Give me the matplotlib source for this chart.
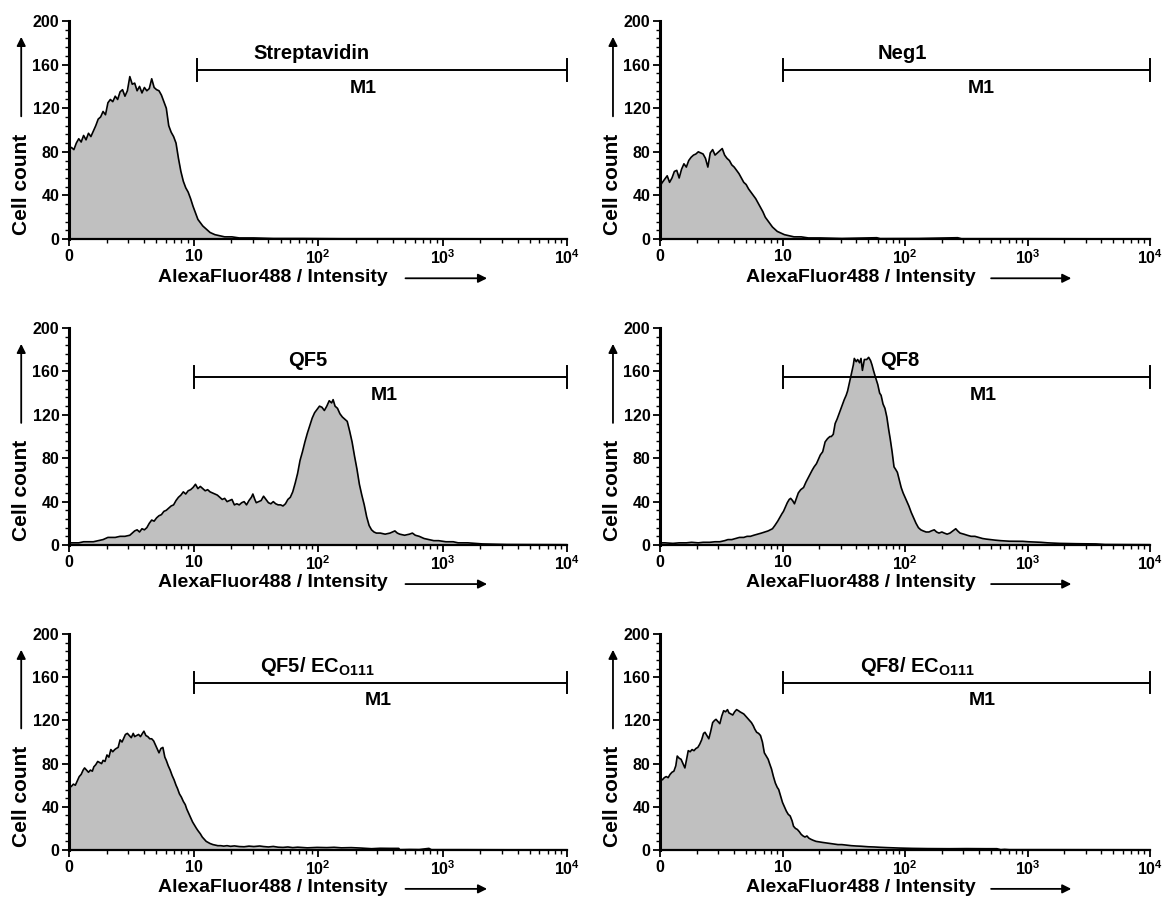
import matplotlib
matplotlib.use('Agg')
import matplotlib.pyplot as plt
from matplotlib.ticker import FixedLocator, MultipleLocator, LogLocator, NullFormatter
import numpy as np

plt.rcParams['font.family'] = 'Liberation Sans'
plt.rcParams['font.weight'] = 'bold'
plt.rcParams['mathtext.fontset'] = 'custom'
plt.rcParams['mathtext.rm'] = 'Liberation Sans:bold'
plt.rcParams['mathtext.bf'] = 'Liberation Sans:bold'
plt.rcParams['mathtext.it'] = 'Liberation Sans:bold'

# histogram channels: 1024 channels over 4 decades (256 per decade)
strep_ch = [0, 1, 2, 5, 10, 15, 20, 25, 30, 35, 40, 45, 50, 55, 60, 65, 70, 75, 80, 85, 90, 95, 100,
            105, 110, 115, 120, 125, 130, 135, 140, 145, 150, 155, 160, 165, 170, 175, 180, 185, 190,
            195, 200, 205, 210, 215, 220, 225, 230, 235, 240, 245, 250, 255, 260, 265, 270, 275, 280,
            285, 290, 295, 300, 310, 320, 335, 350, 380, 420, 480, 560, 700, 850, 1024]
strep_cnt = [142, 142, 83, 84, 82, 88, 92, 89, 95, 91, 97, 94, 99, 104, 110, 112, 117, 114, 125, 128, 126,
             131, 128, 135, 137, 131, 136, 149, 142, 143, 136, 140, 134, 139, 136, 138, 147, 139, 137, 136,
             132, 126, 120, 104, 98, 94, 88, 74, 62, 53, 47, 43, 37, 30, 24, 18, 15, 12, 10, 8, 6, 5, 4,
             3, 2, 2, 1, 1, 0.5, 0.5, 0.3, 0.3, 0.2, 0.2]

neg1_ch = [0, 1, 2, 5, 10, 15, 20, 25, 30, 35, 40, 45, 50, 55, 60, 65, 70, 75, 80, 85, 90, 95, 100, 105,
           110, 115, 120, 125, 130, 135, 140, 145, 150, 155, 160, 165, 170, 175, 180, 185, 190, 195, 200,
           205, 210, 215, 220, 225, 230, 235, 240, 245, 250, 255, 260, 270, 280, 295, 310, 335, 380, 453,
           460, 540, 622, 630, 770, 900, 1024]
neg1_cnt = [120, 120, 50, 52, 55, 58, 52, 56, 62, 63, 56, 64, 69, 66, 72, 75, 77, 78, 80, 79, 78, 74, 66,
            79, 82, 77, 79, 81, 83, 77, 74, 72, 68, 66, 63, 60, 56, 52, 50, 46, 43, 40, 37, 33, 29, 25,
            20, 17, 14, 11, 9, 7, 6, 5, 4, 3, 2, 2, 1, 1, 0.5, 1.2, 0.4, 0.5, 1.2, 0.3, 0.3, 0.2, 0.2]

qf5_ch = [0, 1, 2, 10, 20, 30, 40, 50, 60, 70, 75, 80, 87, 95, 105, 115, 125, 130, 135, 140, 145, 150,
          155, 160, 165, 170, 175, 180, 185, 190, 195, 200, 205, 210, 215, 220, 225, 230, 235, 240, 245,
          250, 255, 260, 265, 270, 275, 280, 285, 290, 295, 300, 305, 310, 315, 320, 325, 330, 335, 340,
          345, 350, 355, 360, 365, 370, 375, 378, 382, 385, 390, 395, 400, 405, 410, 415, 420, 425, 430,
          435, 440, 445, 450, 455, 460, 465, 470, 475, 480, 485, 490, 495, 500, 505, 510, 515, 520, 525,
          530, 535, 540, 543, 547, 552, 557, 562, 567, 572, 577, 582, 587, 592, 597, 602, 607, 612, 617,
          622, 627, 632, 640, 650, 660, 670, 675, 680, 690, 700, 706, 712, 720, 730, 740, 750, 760, 775,
          790, 800, 820, 850, 900, 1024]
qf5_cnt = [18, 18, 2, 2, 2, 3, 3, 3, 4, 5, 6, 7, 7, 7, 8, 8, 9, 11, 13, 14, 12, 15, 14, 16, 20, 23, 22,
           25, 27, 28, 31, 32, 34, 36, 37, 41, 44, 46, 49, 47, 50, 51, 53, 56, 52, 54, 52, 50, 51, 49, 48,
           47, 46, 44, 42, 43, 40, 41, 42, 37, 38, 37, 39, 40, 37, 41, 44, 47, 42, 39, 40, 41, 45, 42, 39,
           38, 40, 38, 37, 37, 36, 38, 42, 44, 49, 57, 66, 78, 86, 95, 103, 110, 117, 122, 125, 128, 127,
           124, 128, 133, 131, 134, 128, 126, 121, 118, 116, 114, 105, 95, 82, 70, 56, 46, 37, 26, 18, 14,
           12, 11, 11, 10, 11, 13, 11, 10, 9, 10, 11, 9, 8, 6, 5, 4, 4, 3, 3, 2, 2, 1, 0.5, 0.3]

qf8_ch = [0, 1, 2, 10, 27, 40, 55, 66, 80, 90, 104, 115, 125, 135, 142, 150, 158, 166, 175, 182, 189,
          196, 204, 212, 219, 226, 235, 240, 246, 251, 255, 258, 262, 266, 270, 273, 277, 281, 285, 289,
          294, 300, 305, 312, 318, 322, 327, 332, 335, 340, 345, 350, 355, 358, 362, 366, 370, 375, 381,
          385, 389, 392, 396, 400, 404, 406, 410, 413, 417, 420, 423, 425, 427, 432, 436, 440, 443, 446,
          450, 455, 459, 462, 466, 470, 474, 478, 481, 485, 489, 492, 496, 500, 504, 508, 512, 516, 520,
          525, 530, 535, 540, 545, 550, 556, 562, 567, 573, 578, 583, 589, 594, 600, 606, 612, 618, 622,
          627, 635, 642, 650, 658, 666, 674, 681, 690, 700, 712, 730, 758, 770, 796, 810, 835, 870, 911,
          930, 1024]
qf8_cnt = [9, 9, 2, 2, 1.5, 2, 2, 2.5, 2, 2.5, 2.5, 3, 3, 4, 5, 5, 6, 7, 7, 8, 8, 9, 10, 11, 12, 13, 15,
           18, 22, 26, 29, 31, 35, 39, 42, 43, 41, 38, 43, 48, 51, 53, 58, 64, 69, 72, 75, 80, 83, 86, 95,
           98, 100, 100, 102, 112, 116, 122, 129, 134, 138, 142, 150, 158, 166, 172, 169, 171, 168, 172,
           161, 166, 171, 171, 173, 170, 166, 161, 155, 148, 140, 138, 130, 126, 118, 106, 98, 86, 72, 70,
           67, 60, 53, 48, 44, 40, 36, 30, 25, 20, 16, 14, 13, 12, 12, 13, 14, 12, 11, 12, 11, 10, 11, 13,
           15, 13, 11, 10, 9, 8, 8, 7, 6, 5.5, 5, 4.5, 4, 3.5, 3.4, 3, 2.5, 2, 1.5, 1.2, 1, 0.5, 0.3]

qf5_ec_ch = [0, 1, 2, 5, 9, 13, 17, 21, 25, 29, 32, 36, 40, 44, 48, 51, 55, 59, 63, 67, 70, 74, 78, 82,
             86, 90, 94, 97, 101, 105, 109, 113, 116, 120, 124, 128, 132, 135, 139, 143, 147, 151, 154,
             158, 162, 166, 170, 174, 178, 182, 185, 189, 193, 197, 200, 204, 208, 212, 216, 220, 223,
             227, 231, 235, 239, 242, 246, 250, 254, 258, 262, 265, 270, 274, 278, 282, 286, 290, 296,
             300, 306, 312, 318, 325, 332, 340, 350, 360, 370, 380, 392, 400, 410, 420, 430, 440, 450,
             460, 470, 490, 510, 530, 545, 560, 580, 600, 622, 640, 660, 678, 680, 700, 720, 740, 745,
             773, 800, 900, 1024]
qf5_ec_cnt = [130, 130, 58, 59, 61, 60, 64, 68, 70, 74, 76, 74, 72, 74, 73, 77, 79, 82, 81, 80, 83, 82,
              88, 86, 93, 91, 93, 94, 95, 102, 100, 104, 107, 108, 106, 104, 108, 105, 106, 107, 105,
              108, 110, 106, 105, 103, 103, 101, 97, 93, 90, 94, 95, 86, 83, 78, 74, 69, 65, 60, 57, 52,
              49, 45, 42, 38, 34, 30, 26, 23, 20, 18, 15, 12, 10, 8, 7, 6, 5, 4.6, 4, 4, 3.6, 4, 3.4,
              3.8, 3.2, 3, 3.6, 3.2, 3.7, 3.2, 2.8, 3.3, 2.6, 2.4, 2.8, 2.2, 2.6, 2, 2.4, 2.2, 2.5, 2,
              2.2, 1.8, 1.2, 1.6, 1.5, 1.5, 0.3, 0.5, 0.4, 1.5, 0.3, 0.3, 0.3, 0.2, 0.2]

qf8_ec_ch = [0, 1, 2, 5, 9, 13, 17, 21, 25, 29, 33, 36, 40, 44, 48, 52, 56, 59, 63, 67, 71, 75, 79, 83,
             87, 91, 94, 98, 102, 106, 110, 114, 117, 121, 125, 129, 133, 137, 141, 144, 148, 152, 156,
             160, 164, 167, 171, 175, 179, 183, 187, 191, 195, 198, 202, 206, 210, 214, 218, 222, 226,
             229, 233, 237, 241, 245, 248, 252, 256, 260, 264, 268, 272, 276, 279, 283, 287, 291, 295,
             299, 303, 307, 311, 315, 320, 326, 333, 340, 348, 356, 364, 372, 380, 390, 400, 410, 420,
             435, 448, 460, 475, 488, 500, 527, 560, 604, 640, 680, 704, 712, 720, 730, 800, 1024]
qf8_ec_cnt = [132, 132, 66, 65, 67, 68, 67, 70, 72, 73, 78, 87, 85, 84, 80, 76, 85, 92, 91, 93, 92, 94,
              95, 98, 102, 108, 109, 106, 103, 110, 118, 120, 121, 119, 117, 124, 129, 128, 130, 127,
              126, 125, 128, 130, 129, 128, 127, 126, 124, 122, 120, 118, 115, 112, 109, 108, 106, 100,
              90, 87, 84, 80, 75, 68, 62, 58, 56, 50, 44, 40, 36, 33, 31.5, 27, 22, 20, 19, 17, 14.5,
              13, 12, 13, 11, 10, 9, 8, 7.5, 7, 6.5, 6, 5.5, 5, 5, 4.5, 4, 3.7, 3.5, 3, 2.8, 2.5, 2.2,
              2, 1.8, 1.5, 1.3, 1.2, 1.3, 1.2, 1.2, 0.3, 0.6, 0.3, 0.3, 0.2]

sample_names = ['Streptavidin', 'Neg1', 'QF5', 'QF8',
                r'QF5/ EC$_{\mathrm{O111}}$', r'QF8/ EC$_{\mathrm{O111}}$']
channels = [strep_ch, neg1_ch, qf5_ch, qf8_ch, qf5_ec_ch, qf8_ec_ch]
counts = [strep_cnt, neg1_cnt, qf5_cnt, qf8_cnt, qf5_ec_cnt, qf8_ec_cnt]

# marker region M1 (intensity range) and its counts level
gate_lo = [10.6, 10, 10, 10, 10, 10]
gate_hi = 1e4
gate_level = 155

xtick_vals = [1, 10, 100, 1000, 10000]
xtick_labels = ['0', '10', r'$10^{2}$', r'$10^{3}$', r'$10^{4}$']

fig = plt.figure(figsize=(11.62, 9.01), dpi=100)

# axes rectangles [left, bottom, width, height] in figure fraction
col_left = [0.0594, 0.568]
col_width = [0.4286, 0.4217]
row_bottom = [0.7347, 0.3951, 0.0566]
row_height = [0.2420, 0.2408, 0.2397]

# where the sample name and M1 label sit (x in intensity units)
name_x = [89, 95, 83, 91, 98, 126]
m1_x = [229, 417, 339, 437, 302, 427]

for i in range(6):
    r, c = divmod(i, 2)
    ax = fig.add_axes([col_left[c], row_bottom[r], col_width[c], row_height[r]])
    x = 10 ** (np.array(channels[i]) / 256.0)
    y = np.array(counts[i])
    ax.fill_between(x, y, 0, color='#c0c0c0', lw=0)
    ax.plot(x, y, color='black', lw=1.2)

    ax.set_xscale('log')
    ax.set_xlim(1, 1e4)
    ax.set_ylim(0, 200)

    for s in ['top', 'right']:
        ax.spines[s].set_visible(False)
    ax.spines['left'].set_linewidth(2.2)
    ax.spines['bottom'].set_linewidth(1.6)

    ax.xaxis.set_major_locator(FixedLocator(xtick_vals))
    ax.set_xticklabels(xtick_labels)
    ax.xaxis.set_minor_locator(LogLocator(base=10, subs=np.arange(2, 10)))
    ax.xaxis.set_minor_formatter(NullFormatter())
    ax.yaxis.set_major_locator(MultipleLocator(40))
    ax.yaxis.set_minor_locator(MultipleLocator(8))
    ax.tick_params(which='major', length=5, width=1.3, labelsize=11.5, pad=2)
    ax.tick_params(which='minor', length=3, width=1.0)
    for lab in ax.get_yticklabels() + ax.get_xticklabels():
        lab.set_fontweight('bold')

    # M1 marker bar
    ax.plot([gate_lo[i], gate_hi], [gate_level, gate_level], color='black', lw=1.4)
    ax.plot([gate_lo[i], gate_lo[i]], [gate_level - 10, gate_level + 10], color='black', lw=1.4)
    ax.plot([gate_hi, gate_hi], [gate_level - 10, gate_level + 10], color='black', lw=1.4,
            clip_on=False)
    ax.text(name_x[i], 170, sample_names[i], ha='center', va='center', fontsize=14.5,
            fontweight='bold')
    ax.text(m1_x[i], 138, 'M1', ha='center', va='center', fontsize=14, fontweight='bold')

    # axis titles with direction arrows
    ax.text(-0.096, 0.25, 'Cell count', transform=ax.transAxes, rotation=90, ha='center',
            va='center', fontsize=15, fontweight='bold')
    ax.annotate('', xy=(-0.096, 0.94), xytext=(-0.096, 0.55), xycoords='axes fraction',
                arrowprops=dict(arrowstyle='-|>', color='black', lw=1.3, mutation_scale=13))
    ax.text(0.41, -0.175, 'AlexaFluor488 / Intensity', transform=ax.transAxes, ha='center',
            va='center', fontsize=14, fontweight='bold')
    ax.annotate('', xy=(0.845, -0.18), xytext=(0.67, -0.18), xycoords='axes fraction',
                arrowprops=dict(arrowstyle='-|>', color='black', lw=1.3, mutation_scale=13))

fig.savefig('out.png', dpi=100)
